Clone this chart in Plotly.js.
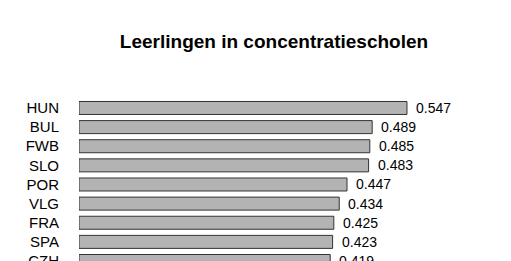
<!DOCTYPE html>
<html>
<head>
<meta charset="utf-8">
<script src="https://cdn.plot.ly/plotly-3.0.1.min.js"></script>
<style>html,body{margin:0;padding:0;background:#fff;}#chart{width:511px;height:261px;}</style>
</head>
<body>
<div id="chart"></div>
<script>
const countries = ["HUN", "BUL", "FWB", "SLO", "POR", "VLG", "FRA", "SPA", "CZH"];
const values = [0.547, 0.489, 0.485, 0.483, 0.447, 0.434, 0.425, 0.423, 0.419];
const valueLabels = values.map(v => v.toFixed(3));
const chartTitle = "Leerlingen in concentratiescholen";

const trace = {
  type: "bar",
  orientation: "h",
  x: values,
  y: countries,
  width: 0.68,
  marker: {color: "#b3b3b3", line: {color: "#333333", width: 1}},
  hoverinfo: "none"
};

const annotations = values.map((v, i) => ({
  x: v, y: countries[i], xref: "x", yref: "y",
  text: valueLabels[i], showarrow: false,
  xanchor: "left", yanchor: "middle", xshift: 7,
  font: {family: "Liberation Sans, Arial, sans-serif", size: 14, color: "#000"}
}));

const layout = {
  width: 511, height: 261,
  margin: {l: 79, r: 0, t: 90, b: 0, pad: 0},
  paper_bgcolor: "#fff", plot_bgcolor: "#fff",
  showlegend: false,
  title: {
    text: "<b>" + chartTitle + "</b>",
    font: {family: "Liberation Sans, Arial, sans-serif", size: 19, color: "#000"},
    x: 274 / 511, xanchor: "center", xref: "container",
    y: 1 - 41 / 261, yanchor: "middle", yref: "container"
  },
  xaxis: {
    range: [0, 0.7205], showgrid: false, zeroline: false, showline: false,
    showticklabels: false, ticks: "", fixedrange: true
  },
  yaxis: {
    type: "category", categoryorder: "array", categoryarray: countries,
    range: [8.0, -0.94], showgrid: false, zeroline: false, showline: false,
    ticks: "", ticklabelstandoff: 19,
    tickfont: {family: "Liberation Sans, Arial, sans-serif", size: 15, color: "#000"}
  },
  annotations: annotations
};

Plotly.newPlot("chart", [trace], layout, {displayModeBar: false, staticPlot: true});
</script>
</body>
</html>
